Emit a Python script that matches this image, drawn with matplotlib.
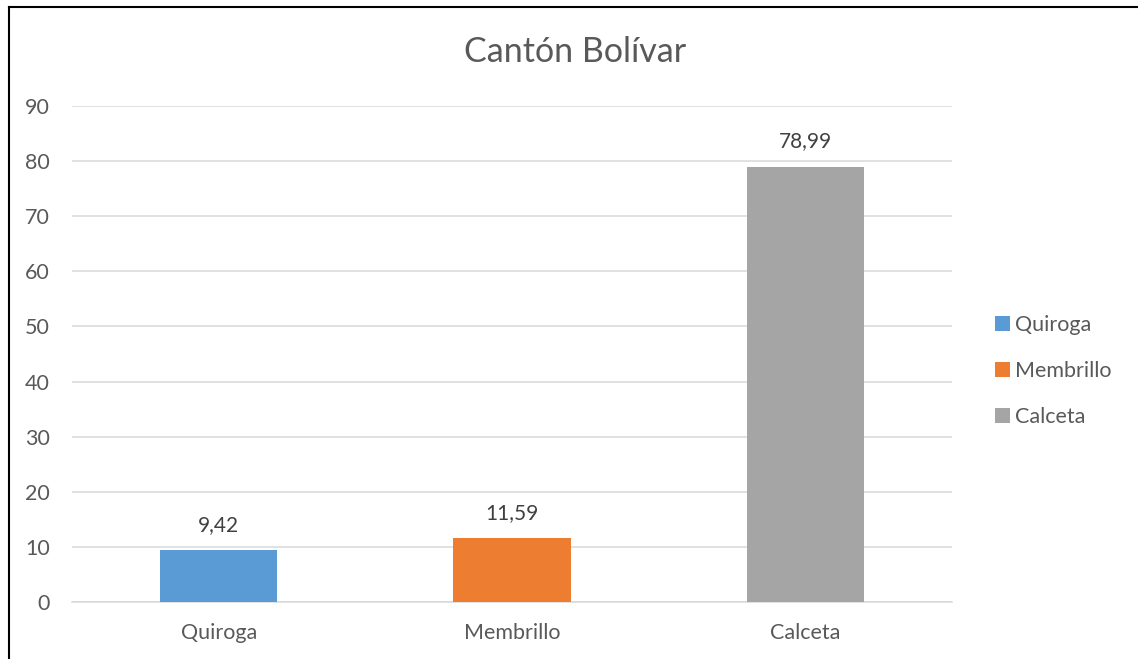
import matplotlib.pyplot as plt
from matplotlib.lines import Line2D
from matplotlib.patches import Patch

plt.rcParams['font.family'] = ['Lato', 'DejaVu Sans']

categorias = ['Quiroga', 'Membrillo', 'Calceta']
valores = [9.42, 11.59, 78.99]
colores = ['#5b9bd5', '#ed7d31', '#a5a5a5']
marcas_y = [0, 10, 20, 30, 40, 50, 60, 70, 80, 90]

texto = '#595959'

fig = plt.figure(figsize=(11.38, 6.59), dpi=100)
ax = fig.add_axes([0.0633, 0.0865, 0.7733, 0.7527])

x = range(len(categorias))
barras = ax.bar(x, valores, width=0.40, color=colores, zorder=3)

for xi, v in zip(x, valores):
    ax.annotate(f'{v:.2f}'.replace('.', ','), (xi, v), xytext=(0, 11),
                textcoords='offset points', ha='center', va='bottom',
                fontsize=15, color='#404040')

ax.set_xlim(-0.5, 2.5)
ax.set_ylim(0, 90)
ax.set_yticks(marcas_y)
ax.set_xticks(list(x))
ax.set_xticklabels(categorias)
ax.yaxis.grid(True, color='#d9d9d9', linewidth=1.1, zorder=0)
for lado in ['top', 'right', 'left']:
    ax.spines[lado].set_visible(False)
ax.spines['bottom'].set_color('#d9d9d9')
ax.spines['bottom'].set_linewidth(1.1)
ax.tick_params(axis='both', length=0, labelsize=15.5, labelcolor=texto)
ax.tick_params(axis='y', pad=16)
ax.tick_params(axis='x', pad=15)

fig.text(0.505, 0.921, 'Cantón Bolívar', ha='center', va='center',
         fontsize=24.5, color=texto)

handles = [Patch(facecolor=c, label=n) for c, n in zip(colores, categorias)]
fig.legend(handles=handles, loc='center left', bbox_to_anchor=(0.857, 0.437),
           frameon=False, fontsize=15.5, labelcolor=texto, handlelength=0.7,
           handleheight=0.7, handletextpad=0.25, labelspacing=1.2)

# marco exterior
fig.add_artist(Line2D([0.0075, 0.0075], [0, 0.989], color='black', lw=1.5,
                      transform=fig.transFigure))
fig.add_artist(Line2D([0.0075, 1.0], [0.989, 0.989], color='black', lw=1.5,
                      transform=fig.transFigure))

fig.savefig('out.png', dpi=100)
